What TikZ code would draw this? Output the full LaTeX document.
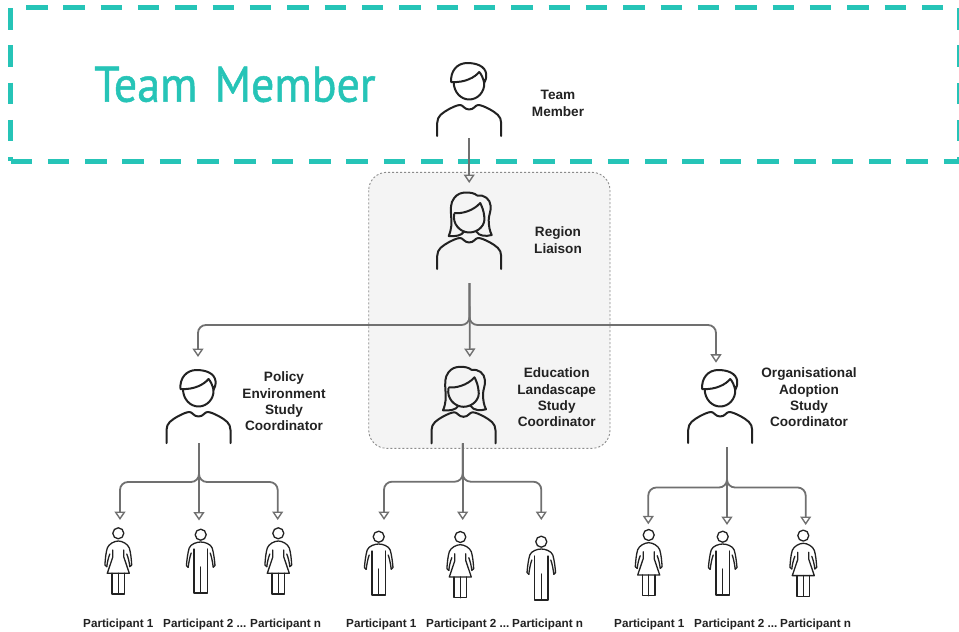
\documentclass[tikz,border=0pt]{standalone}
\usepackage{fontspec}
\setmainfont{Liberation Sans}
\newfontfamily\titlefont[FakeBold=1,FakeStretch=0.92]{PT Sans}
\usetikzlibrary{arrows.meta,calc}
\definecolor{teal}{HTML}{26C4B7}
\definecolor{ink}{HTML}{222222}
\definecolor{conn}{HTML}{707070}
\tikzset{
  iconline/.style={draw=ink,line width=2pt,line join=round,line cap=round,fill=none},
  smallline/.style={draw=ink,line width=1.3pt,line join=round,line cap=round,fill=none},
  iconbox/.style={inner sep=0pt,outer sep=0pt,minimum width=#1,anchor=south},
  connector/.style={draw=conn,line width=1.8pt,-{Triangle[open,length=8.5pt,width=11pt,line width=1.4pt]}},
  branch/.style={connector,rounded corners=8pt},
  teamdash/.style={draw=teal,line width=5pt,dash pattern=on 21.5pt off 15.83pt},
  rolelabel/.style={font=\fontsize{13.6}{16.4}\selectfont\bfseries,text=ink,align=center,inner sep=0pt},
  partlabel/.style={font=\fontsize{11.7}{14}\selectfont\bfseries,text=ink,anchor=west,inner sep=0pt},
  pics/bigbody/.style={code={
    \draw[iconline] (-32,0) -- (-32,-13) .. controls (-32,-20) and (-27,-23) .. (-20,-27)
      .. controls (-16,-29) and (-12,-31) .. (-9,-31) .. controls (-6,-31) and (-5,-26.5) .. (0,-26.5)
      .. controls (5,-26.5) and (6,-31) .. (9,-31) .. controls (12,-31) and (16,-29) .. (20,-27)
      .. controls (27,-23) and (32,-20) .. (32,-13) -- (32,0);
  }},
  pics/bigman/.style={code={
    \pic {bigbody};
    \draw[iconline] (-15.5,-54) .. controls (-15.5,-44) and (-8.5,-36.5) .. (0,-36.5)
      .. controls (8.5,-36.5) and (15.5,-44) .. (15,-53);
    \draw[iconline] (-18,-54) .. controls (-19,-65) and (-12,-73) .. (-2,-73)
      .. controls (7,-73) and (16,-70) .. (17,-62) .. controls (17.5,-58) and (16,-55) .. (15,-53)
      .. controls (14,-58) and (12,-62) .. (10,-64) .. controls (6,-59) and (-4,-53) .. (-18,-54);
  }},
  pics/bigwoman/.style={code={
    \pic {bigbody};
    \draw[iconline] (-15,-55) .. controls (-17,-45) and (-9,-36.5) .. (0,-36.5)
      .. controls (9,-36.5) and (17,-44) .. (15,-53);
    \draw[iconline] (-14.5,-56) .. controls (-8,-55) and (4,-58) .. (11,-66) .. controls (13,-62) and (14.5,-58) .. (15,-53);
    \draw[iconline] (-5,-37.5) .. controls (-8,-33) and (-14,-32.5) .. (-20.5,-33)
      .. controls (-17.5,-40) and (-17.5,-46) .. (-18,-52) .. controls (-18.5,-60) and (-19,-66) .. (-15,-71)
      .. controls (-12,-75) and (-8,-76.5) .. (-3,-76.5) .. controls (1,-76.5) and (5,-76) .. (8,-73.5)
      .. controls (15,-74.5) and (21,-70) .. (21.5,-63) .. controls (22,-58) and (19.5,-54) .. (19.5,-49)
      .. controls (19.5,-43) and (20.5,-38) .. (22.5,-34) .. controls (17,-32.5) and (10,-32.5) .. (7,-37.5);
  }},
  pics/smallman/.style={code={
    \draw[smallline] (0,-58.3) circle[radius=5.5];
    \draw[smallline] (-12.5,-25.7) .. controls (-13.5,-26) and (-14.3,-26.5) .. (-14.3,-27.5)
      .. controls (-13.8,-33) and (-13,-40) .. (-11.5,-45) .. controls (-10,-49) and (-4,-51) .. (0,-51)
      .. controls (4,-51) and (10,-49) .. (11.5,-45) .. controls (13,-40) and (13.8,-33) .. (14.3,-27.5)
      .. controls (14.3,-26.5) and (13.5,-26) .. (12.5,-25.7) .. controls (12,-30) and (11,-36) .. (9.5,-40);
    \draw[smallline] (-12.5,-25.7) .. controls (-12,-30) and (-11,-36) .. (-9.5,-40);
    \draw[smallline] (-6.7,-44) -- (-6.7,0) -- (6.7,0) -- (6.7,-44);
    \draw[smallline] (0,-26) -- (0,0);
  }},
  pics/smallwoman/.style={code={
    \draw[smallline] (0,-60.7) circle[radius=5.5];
    \draw[smallline] (-11.5,-27.3) .. controls (-12.5,-27.5) and (-13.4,-28) .. (-13.4,-29)
      .. controls (-13,-35) and (-12.5,-41) .. (-11,-46) .. controls (-9.5,-50) and (-4,-53) .. (0,-53)
      .. controls (4,-53) and (9.5,-50) .. (11,-46) .. controls (12.5,-41) and (13,-35) .. (13.4,-29)
      .. controls (13.4,-28) and (12.5,-27.5) .. (11.5,-27.3) .. controls (11,-32) and (10,-36) .. (8.5,-40);
    \draw[smallline] (-11.5,-27.3) .. controls (-11,-32) and (-10,-36) .. (-8.5,-40);
    \draw[smallline] (-5.5,-44) -- (-5.5,-37) -- (-11,-20.7) -- (11,-20.7) -- (5.5,-37) -- (5.5,-44);
    \draw[smallline] (-6.2,-20.7) -- (-6.2,0) -- (6.2,0) -- (6.2,-20.7);
    \draw[smallline] (0,-20.7) -- (0,0);
  }},
}
% name, pic, x, bottom, width, height
\newcommand{\iconat}[6]{%
  \node[iconbox=#5,minimum height=#6] (#1) at (#3,#4) {};
  \pic at (#3,#4) {#2};
}
\begin{document}
\begin{tikzpicture}[x=1pt,y=-1pt]
\useasboundingbox (0,0) rectangle (959,632);
\fill[white] (0,0) rectangle (959,632);
% grey region
\draw[draw=black!45,fill=black!4.5,line width=0.9pt,dash pattern=on 2pt off 2pt,rounded corners=18pt]
  (368.7,172.3) rectangle (610,448.3);
% team frame
\draw[teamdash] (10.5,8) -- (10.5,161);
\draw[teamdash] (10.5,161) -- (959,161);
\draw[teamdash] (26,7.5) -- (959,7.5);
\draw[teamdash] (959.5,8) -- (959.5,161);
\node[font=\titlefont\fontsize{50}{50}\selectfont,text=teal,anchor=base west,inner sep=0pt] (title) at (94,101.7) {Team\hspace{0.1em} Member};
% icons
\iconat{tm}{bigman}{469.2}{136}{66}{73}
\iconat{rl}{bigwoman}{469.2}{269}{66}{76.5}
\iconat{pe}{bigman}{198.5}{443}{66}{73}
\iconat{el}{bigwoman}{463.5}{443.3}{66}{76.5}
\iconat{oa}{bigman}{720.2}{443}{66}{73}
\iconat{pa1}{smallwoman}{118.3}{594}{26}{66.4}
\iconat{pa2}{smallman}{200.7}{593}{28}{64}
\iconat{pa3}{smallwoman}{278.3}{594}{26}{66.4}
\iconat{pb1}{smallman}{378.7}{595}{28}{64}
\iconat{pb2}{smallwoman}{460.3}{597.7}{26}{66.4}
\iconat{pb3}{smallman}{541.3}{600}{28}{64}
\iconat{pc1}{smallwoman}{648.7}{595.7}{26}{66.4}
\iconat{pc2}{smallman}{722.7}{595}{28}{64}
\iconat{pc3}{smallwoman}{803.3}{596.3}{26}{66.4}
% role labels
\node[rolelabel] (ltm) at (558,103.3) {Team\\Member};
\node[rolelabel] (lrl) at (558,240.3) {Region\\Liaison};
\node[rolelabel] (lpe) at (284,401.5) {Policy\\Environment\\Study\\Coordinator};
\node[rolelabel] (lel) at (556.7,397.5) {Education\\Landascape\\Study\\Coordinator};
\node[rolelabel] (loa) at (809,397.5) {Organisational\\Adoption\\Study\\Coordinator};
% participant labels
\node[partlabel] (laba) at (83,624) {Participant 1};
\node[partlabel] (labb) at (163,624) {Participant 2 ...};
\node[partlabel] (labc) at (250,624) {Participant n};
\node[partlabel] (labd) at (346,624) {Participant 1};
\node[partlabel] (labe) at (426,624) {Participant 2 ...};
\node[partlabel] (labf) at (512,624) {Participant n};
\node[partlabel] (labg) at (614,624) {Participant 1};
\node[partlabel] (labh) at (694,624) {Participant 2 ...};
\node[partlabel] (labi) at (780,624) {Participant n};
% junctions
\coordinate (jr) at (469.5,325);
\coordinate (ja) at (199,482);
\coordinate (jb) at (462.7,481.7);
\coordinate (jc) at (727,487.5);
% connectors
\draw[connector] ([yshift=-2pt]tm.south) -- ([yshift=9.5pt]rl.north);
\coordinate (rs) at ([xshift=0.3pt,yshift=-14pt]rl.south);
\draw[branch] (rs) -- (rs |- jr) -| ([xshift=-0.5pt,yshift=13pt]pe.north);
\draw[connector] (rs) -- ([xshift=6.3pt,yshift=9.8pt]el.north);
\draw[branch] (rs) -- (rs |- jr) -| ([xshift=-4.2pt,yshift=7.3pt]oa.north);
% policy
\coordinate (as) at ([xshift=0.5pt]pe.south);
\draw[branch] (as) -- (as |- ja) -| ([xshift=1.7pt,yshift=7.6pt]pa1.north);
\draw[connector] (as) -- ([xshift=-1.7pt,yshift=8.5pt]pa2.north);
\draw[branch] (as) -- (as |- ja) -| ([xshift=-0.6pt,yshift=7.6pt]pa3.north);
% education
\coordinate (bs) at ([xshift=-0.8pt]el.south);
\draw[branch] (bs) -- (bs |- jb) -| ([xshift=5.3pt,yshift=11pt]pb1.north);
\draw[connector] (bs) -- ([xshift=2.4pt,yshift=11.3pt]pb2.north);
\draw[branch] (bs) -- (bs |- jb) -| ([yshift=16pt]pb3.north);
% organisational
\coordinate (cs) at ([xshift=6.8pt,yshift=-4pt]oa.south);
\draw[branch] (cs) -- (cs |- jc) -| ([xshift=-0.4pt,yshift=5pt]pc1.north);
\draw[connector] (cs) -- ([xshift=4.3pt,yshift=6pt]pc2.north);
\draw[branch] (cs) -- (cs |- jc) -| ([xshift=2.4pt,yshift=4.9pt]pc3.north);
\end{tikzpicture}
\end{document}
